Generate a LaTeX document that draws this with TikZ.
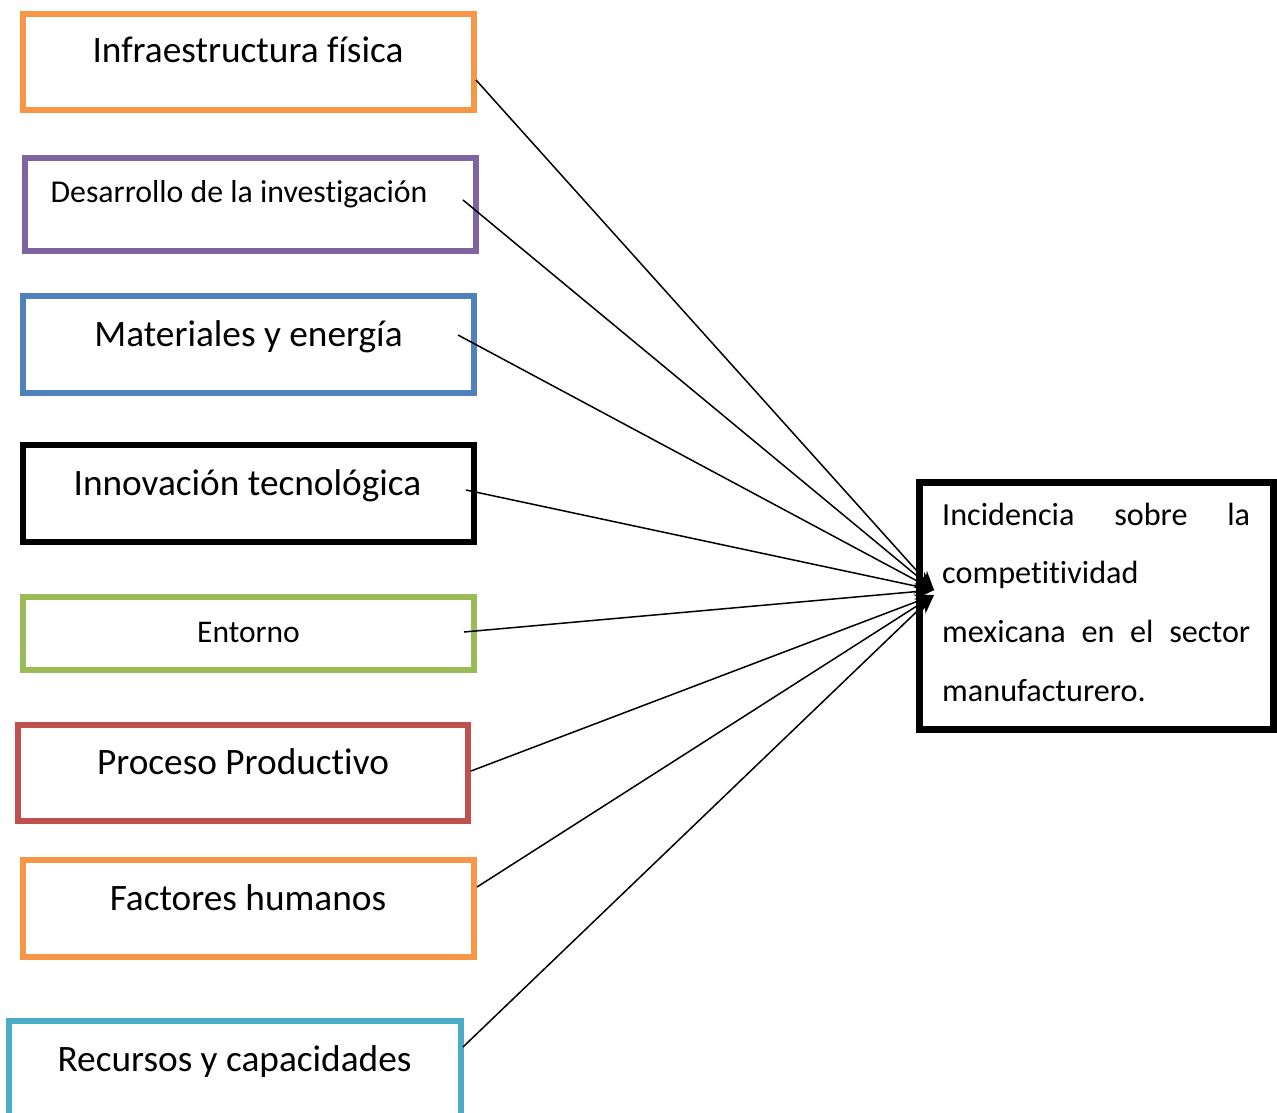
\documentclass[tikz,border=0pt]{standalone}
\usepackage{fontspec}
\setmainfont{Carlito}[Ligatures={NoCommon}]
\usetikzlibrary{arrows.meta}
\definecolor{cOrange}{HTML}{F79646}
\definecolor{cPurple}{HTML}{8064A2}
\definecolor{cBlue}{HTML}{4F81BD}
\definecolor{cGreen}{HTML}{9BBB59}
\definecolor{cRed}{HTML}{C0504D}
\definecolor{cCyan}{HTML}{4BACC6}
\begin{document}
\begin{tikzpicture}[x=1pt,y=-1pt,
  frame/.style={draw, line width=6pt, rectangle, inner sep=0pt, outer sep=0pt, anchor=north west},
  lbl/.style={anchor=base, inner sep=0pt},
  big/.style={font=\fontsize{37.3}{44}\selectfont},
  conn/.style={line width=1.5pt, -{Stealth[length=19pt,width=15pt]}}]
\useasboundingbox (0,0) rectangle (1277,1113);
\clip (0,0) rectangle (1277,1113);
\fill[white] (0,0) rectangle (1277,1113);
% source boxes
\node[frame, draw=cOrange, minimum width=451pt, minimum height=96pt] (b1) at (23,14) {};
\node[lbl, big] (l1) at (248,63) {Infraestructura física};
\node[frame, draw=cPurple, minimum width=451pt, minimum height=93pt] (b2) at (25,158) {};
\node[lbl, font=\fontsize{31.8}{36}\selectfont] (l2) at (239,202) {Desarrollo de la investigación};
\node[frame, draw=cBlue, minimum width=451pt, minimum height=97pt] (b3) at (23,296) {};
\node[lbl, big] (l3) at (248.5,346) {Materiales y energía};
\node[frame, draw=black, minimum width=451pt, minimum height=97pt] (b4) at (23,445) {};
\node[lbl, big] (l4) at (247.5,495) {Innovación tecnológica};
\node[frame, draw=cGreen, minimum width=451pt, minimum height=73pt] (b5) at (23,597) {};
\node[lbl, font=\fontsize{31.5}{36}\selectfont] (l5) at (248.5,642) {Entorno};
\node[frame, draw=cRed, minimum width=450pt, minimum height=96pt] (b6) at (18,725) {};
\node[lbl, big] (l6) at (243,774) {Proceso Productivo};
\node[frame, draw=cOrange, minimum width=451pt, minimum height=97pt] (b7) at (23,860) {};
\node[lbl, big] (l7) at (248,910) {Factores humanos};
\node[frame, draw=cCyan, minimum width=452pt, minimum height=120pt] (b8) at (9,1021) {};
\node[lbl, big] (l8) at (234.5,1071) {Recursos y capacidades};
% target box
\node[frame, draw=black, line width=7pt, minimum width=354pt, minimum height=247pt] (t) at (919,482) {};
\node[anchor=base west, inner sep=0pt, text width=308pt, align=left,
      font=\fontsize{32.2}{58.7}\selectfont] (tl) at (942,525)
  {Incidencia\hfill sobre\hfill la\\competitividad\\mexicana\hfill en\hfill el\hfill sector\\manufacturero.};
% connector end points
\coordinate (hubA) at (934,590);
\coordinate (hubB) at (934,595);
\coordinate (s1) at (476,80);
\coordinate (s2) at (463,200);
\coordinate (s3) at (458,335);
\coordinate (s4) at (466,490);
\coordinate (s5) at (464,632);
\coordinate (s6) at (471,771);
\coordinate (s7) at (477,887);
\coordinate (s8) at (463,1047);
\foreach \s in {s1,s2,s3,s4,s5}
  \draw[conn] (\s) -- (hubA);
\foreach \s in {s6,s7,s8}
  \draw[conn] (\s) -- (hubB);
\end{tikzpicture}
\end{document}
